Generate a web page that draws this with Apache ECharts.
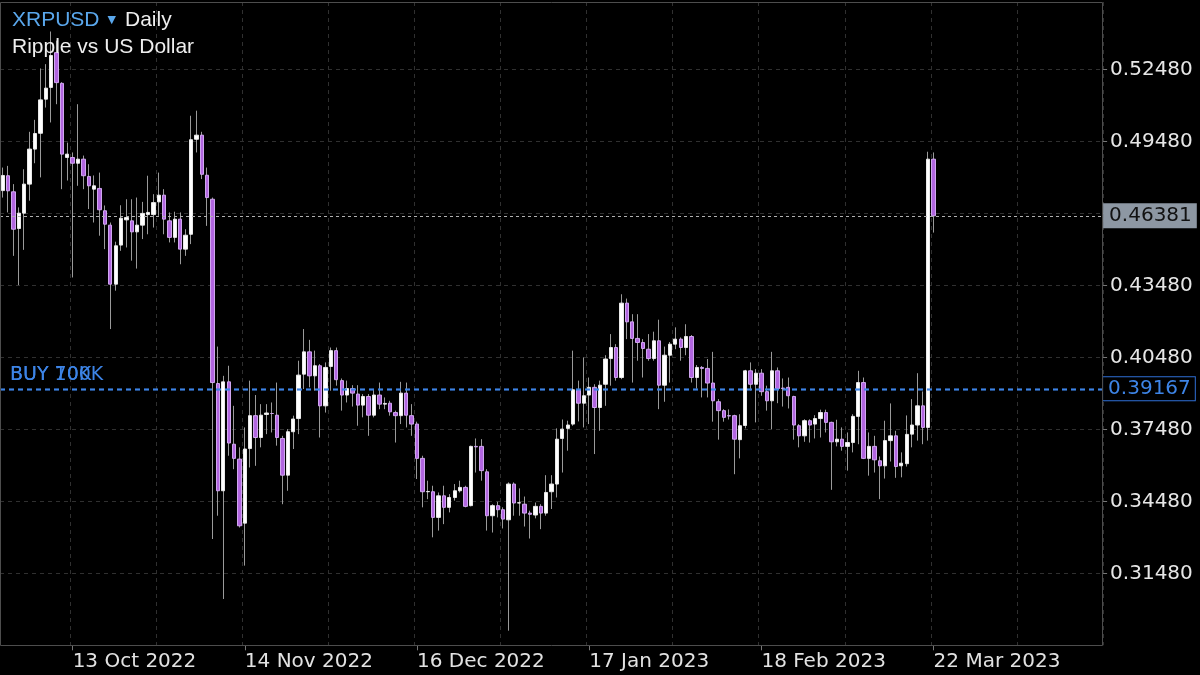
<!DOCTYPE html>
<html>
<head>
<meta charset="utf-8">
<script src="https://cdn.jsdelivr.net/npm/echarts@6/dist/echarts.min.js"></script>
<style>
html,body{margin:0;padding:0;background:#000;}
#chart{width:1200px;height:675px;}
</style>
</head>
<body>
<div id="chart"></div>
<script>
// ---- data ----
const firstDay = [2022, 8, 30];          // 30 Sep 2022 (UTC y, m0, d)
const totalDays = 205;                    // category slots incl. empty space on the right
const openP = [
0.4743,0.4805,0.4738,0.4585,0.4649,0.4770,0.4916,0.4982,0.5124,0.5173,
0.5318,0.5190,0.4881,0.4881,0.4857,0.4874,0.4802,0.4749,0.4752,0.4659,
0.4599,0.4353,0.4516,0.4621,0.4617,0.4571,0.4599,0.4643,0.4643,0.4696,
0.4724,0.4617,0.4548,0.4624,0.4499,0.4561,0.4957,0.4974,0.4807,0.4707,
0.3939,0.3492,0.3946,0.3686,0.3624,0.3357,0.3668,0.3805,0.3714,0.3810,
0.3814,0.3807,0.3710,0.3557,0.3738,0.3793,0.3978,0.4071,0.3971,0.4013,
0.3846,0.4010,0.4076,0.3951,0.3891,0.3918,0.3895,0.3849,0.3885,0.3807,
0.3891,0.3853,0.3857,0.3818,0.3805,0.3899,0.3805,0.3770,0.3627,0.3488,
0.3488,0.3381,0.3471,0.3423,0.3464,0.3492,0.3506,0.3430,0.3677,0.3677,
0.3571,0.3388,0.3430,0.3413,0.3371,0.3520,0.3441,0.3436,0.3399,0.3391,
0.3427,0.3399,0.3488,0.3520,0.3710,0.3752,0.3770,0.3913,0.3857,0.3891,
0.3923,0.3839,0.3936,0.4043,0.4089,0.3964,0.4274,0.4196,0.4127,0.4110,
0.4082,0.4043,0.4117,0.3932,0.4057,0.4103,0.4124,0.4089,0.4135,0.3964,
0.4006,0.4002,0.3941,0.3863,0.3826,0.3805,0.3805,0.3705,0.3764,0.3992,
0.3936,0.3982,0.3905,0.3867,0.3992,0.3920,0.3923,0.3885,0.3763,0.3721,
0.3784,0.3770,0.3793,0.3818,0.3777,0.3696,0.3707,0.3677,0.3693,0.3802,
0.3943,0.3627,0.3677,0.3617,0.3596,0.3701,0.3721,0.3596,0.3605,0.3728,
0.3766,0.3846,0.3756,0.4874
];
const closeP = [
0.4806,0.4742,0.4582,0.4649,0.4770,0.4916,0.4981,0.5121,0.5170,0.5306,
0.5193,0.4895,0.4895,0.4857,0.4874,0.4805,0.4763,0.4763,0.4663,0.4603,
0.4353,0.4513,0.4628,0.4631,0.4571,0.4599,0.4648,0.4652,0.4693,0.4724,
0.4624,0.4548,0.4624,0.4499,0.4557,0.4955,0.4974,0.4811,0.4714,0.3943,
0.3492,0.3946,0.3691,0.3627,0.3346,0.3666,0.3805,0.3714,0.3807,0.3816,
0.3814,0.3714,0.3557,0.3738,0.3791,0.3974,0.4071,0.3971,0.4013,0.3846,
0.4006,0.4076,0.3955,0.3891,0.3918,0.3899,0.3849,0.3885,0.3807,0.3891,
0.3853,0.3856,0.3821,0.3805,0.3899,0.3807,0.3770,0.3627,0.3488,0.3489,
0.3381,0.3471,0.3423,0.3464,0.3492,0.3506,0.3427,0.3677,0.3675,0.3576,
0.3388,0.3430,0.3413,0.3374,0.3520,0.3441,0.3442,0.3399,0.3394,0.3427,
0.3399,0.3485,0.3520,0.3707,0.3749,0.3766,0.3913,0.3857,0.3888,0.3923,
0.3839,0.3932,0.4041,0.4089,0.3964,0.4274,0.4196,0.4127,0.4110,0.4085,
0.4043,0.4117,0.3932,0.4057,0.4103,0.4124,0.4089,0.4135,0.3964,0.4006,
0.4002,0.3941,0.3867,0.3826,0.3798,0.3804,0.3707,0.3763,0.3992,0.3936,
0.3982,0.3905,0.3867,0.3992,0.3918,0.3918,0.3888,0.3766,0.3721,0.3784,
0.3766,0.3793,0.3818,0.3777,0.3696,0.3707,0.3677,0.3693,0.3802,0.3943,
0.3627,0.3677,0.3621,0.3596,0.3701,0.3721,0.3593,0.3607,0.3727,0.3766,
0.3846,0.3756,0.4874,0.46381
];
const lowP = [
0.4714,0.4652,0.4471,0.4349,0.4496,0.4701,0.4857,0.4798,0.5089,0.5027,
0.5103,0.4749,0.4785,0.4381,0.4763,0.4749,0.4666,0.4610,0.4555,0.4499,
0.4166,0.4326,0.4492,0.4506,0.4451,0.4418,0.4541,0.4561,0.4589,0.4638,
0.4561,0.4527,0.4527,0.4436,0.4471,0.4520,0.4902,0.4791,0.4596,0.3291,
0.3388,0.3041,0.3638,0.3582,0.3339,0.3180,0.3589,0.3596,0.3673,0.3728,
0.3735,0.3680,0.3436,0.3492,0.3666,0.3728,0.3916,0.3923,0.3909,0.3714,
0.3818,0.3909,0.3930,0.3826,0.3860,0.3843,0.3763,0.3798,0.3721,0.3798,
0.3832,0.3832,0.3805,0.3693,0.3770,0.3756,0.3721,0.3541,0.3423,0.3457,
0.3298,0.3326,0.3353,0.3402,0.3451,0.3485,0.3423,0.3427,0.3568,0.3534,
0.3326,0.3318,0.3381,0.3335,0.2909,0.3388,0.3388,0.3343,0.3293,0.3377,
0.3332,0.3388,0.3416,0.3464,0.3568,0.3659,0.3763,0.3781,0.3756,0.3770,
0.3645,0.3742,0.3846,0.3930,0.3951,0.3957,0.4124,0.3943,0.4034,0.3964,
0.4034,0.4034,0.3832,0.3863,0.3943,0.4082,0.4034,0.4057,0.3943,0.3918,
0.3881,0.3881,0.3780,0.3705,0.3780,0.3789,0.3561,0.3627,0.3752,0.3910,
0.3777,0.3888,0.3826,0.3749,0.3857,0.3843,0.3835,0.3705,0.3673,0.3696,
0.3693,0.3710,0.3714,0.3735,0.3496,0.3677,0.3659,0.3576,0.3652,0.3686,
0.3624,0.3555,0.3568,0.3457,0.3543,0.3614,0.3546,0.3548,0.3593,0.3673,
0.3701,0.3686,0.3701,0.4568
];
const highP = [
0.4839,0.4846,0.4770,0.4673,0.4832,0.4988,0.5038,0.5252,0.5270,0.5406,
0.5368,0.5195,0.4943,0.4902,0.5103,0.4889,0.4853,0.4806,0.4818,0.4681,
0.4610,0.4530,0.4682,0.4707,0.4707,0.4714,0.4696,0.4805,0.4728,0.4818,
0.4749,0.4652,0.4655,0.4652,0.4582,0.5055,0.5076,0.4988,0.4839,0.4714,
0.4093,0.3971,0.4013,0.3846,0.3673,0.3756,0.3951,0.3891,0.3853,0.3853,
0.3860,0.3943,0.3721,0.3749,0.3805,0.4034,0.4166,0.4121,0.4076,0.4020,
0.4027,0.4089,0.4089,0.3960,0.3951,0.3932,0.3932,0.3895,0.3895,0.3916,
0.3943,0.3881,0.3867,0.3826,0.3946,0.3943,0.3853,0.3780,0.3638,0.3534,
0.3513,0.3485,0.3513,0.3478,0.3520,0.3534,0.3513,0.3680,0.3710,0.3707,
0.3582,0.3436,0.3446,0.3423,0.3527,0.3527,0.3502,0.3468,0.3409,0.3443,
0.3436,0.3557,0.3557,0.3752,0.3789,0.3784,0.4076,0.3951,0.4048,0.3964,
0.3936,0.3951,0.4057,0.4145,0.4103,0.4311,0.4293,0.4228,0.4228,0.4124,
0.4145,0.4155,0.4205,0.4093,0.4112,0.4173,0.4131,0.4186,0.4141,0.4016,
0.4012,0.4041,0.4071,0.3874,0.3832,0.3831,0.3809,0.3811,0.3996,0.4027,
0.3999,0.3999,0.3930,0.4071,0.4006,0.3960,0.3964,0.3888,0.3770,0.3790,
0.3790,0.3807,0.3830,0.3830,0.3780,0.3788,0.3756,0.3735,0.3811,0.3992,
0.3964,0.3735,0.3721,0.3635,0.3784,0.3856,0.3742,0.3652,0.3806,0.3874,
0.3982,0.3906,0.4905,0.4902
];
const xTickLabels = ['13 Oct 2022','14 Nov 2022','16 Dec 2022','17 Jan 2023','18 Feb 2023','22 Mar 2023'];
const yTickValues = [0.3148,0.3448,0.3748,0.4048,0.4348,0.4648,0.4948,0.5248];
const yLabelValues = [0.3148,0.3448,0.3748,0.4048,0.4348,0.4948,0.5248];
const currentPrice = 0.46381;
const buyLevel = 0.39167;
const buyLabels = ['BUY 10K','BUY 700K'];
const symbolName = 'XRPUSD';
const periodName = 'Daily';
const description = 'Ripple vs US Dollar';

// ---- build ----
const MONTHS = ['Jan','Feb','Mar','Apr','May','Jun','Jul','Aug','Sep','Oct','Nov','Dec'];
const categories = [];
const t0 = Date.UTC(firstDay[0], firstDay[1], firstDay[2]);
for (let i = 0; i < totalDays; i++) {
  const d = new Date(t0 + i * 86400000);
  categories.push(d.getUTCDate() + ' ' + MONTHS[d.getUTCMonth()] + ' ' + d.getUTCFullYear());
}
const firstLabelIdx = categories.indexOf(xTickLabels[0]);
const labelStep = categories.indexOf(xTickLabels[1]) - firstLabelIdx;
const gridStep = labelStep / 2;

const wickData = openP.map((o, i) => [o, closeP[i], lowP[i], highP[i]]);
const bodyData = openP.map((o, i) => [o, closeP[i], Math.min(o, closeP[i]), Math.max(o, closeP[i])]);

const AXIS_FONT = 'DejaVu Sans';
const BLUE = '#3d84e6';

const chart = echarts.init(document.getElementById('chart'), null, {renderer: 'canvas'});
chart.setOption({
  backgroundColor: '#000000',
  animation: false,
  title: {
    left: 7, top: 5,
    text: '{s|' + symbolName + '} {t|▼} {d|' + periodName + '}',
    subtext: description,
    itemGap: 6,
    textStyle: {
      fontWeight: 'normal',
      rich: {
        s: {color: '#5aa7ec', fontSize: 21, fontWeight: 'normal', fontFamily: 'Liberation Sans'},
        t: {color: '#5aa7ec', fontSize: 11, fontWeight: 'normal', fontFamily: 'DejaVu Sans', padding: [0, 4, 0, 3]},
        d: {color: '#eeeeee', fontSize: 21, fontWeight: 'normal', fontFamily: 'Liberation Sans'}
      }
    },
    subtextStyle: {color: '#eeeeee', fontSize: 21, fontWeight: 'normal', fontFamily: 'Liberation Sans'}
  },
  grid: {left: -1.39, right: 96.9, top: 2, bottom: 29.7, show: false},
  xAxis: {
    type: 'category',
    data: categories,
    boundaryGap: true,
    axisLine: {show: false},
    axisTick: {
      show: true, length: 5, alignWithLabel: true,
      interval: (i, v) => xTickLabels.indexOf(v) >= 0,
      lineStyle: {color: '#777777'}
    },
    axisLabel: {
      interval: (i, v) => xTickLabels.indexOf(v) >= 0,
      align: 'left', margin: 6, padding: [0, 0, 0, 0],
      color: '#e2e2e2', fontSize: 20, fontFamily: AXIS_FONT,
      hideOverlap: false
    },
    splitLine: {
      show: true,
      interval: (i) => i >= firstLabelIdx - gridStep && (i - firstLabelIdx) % gridStep === 0,
      lineStyle: {color: '#303030', type: [4, 4], width: 1}
    }
  },
  yAxis: {
    type: 'value',
    position: 'right',
    min: 0.2848, max: 0.5529,
    axisLine: {show: false},
    axisTick: {show: true, customValues: yTickValues, length: 4, lineStyle: {color: '#777777'}},
    axisLabel: {
      customValues: yLabelValues,
      formatter: v => v.toFixed(5),
      color: '#e6e6e6', fontSize: 20, fontFamily: AXIS_FONT, margin: 7
    },
    splitLine: {show: true, lineStyle: {color: '#303030', type: [4, 4], width: 1}}
  },
  series: [
    {
      type: 'candlestick',
      name: 'wicks',
      data: wickData,
      barWidth: 1,
      silent: true,
      z: 2,
      itemStyle: {color: '#9a9a9a', color0: '#9a9a9a', borderColor: '#9a9a9a', borderColor0: '#9a9a9a', borderWidth: 1}
    },
    {
      type: 'candlestick',
      name: 'bodies',
      data: bodyData,
      barWidth: 3.8,
      silent: true,
      z: 3,
      itemStyle: {color: '#ffffff', color0: '#b266e0', borderColor: '#e8e8e8', borderColor0: '#cfa6ef', borderWidth: 1},
      markLine: {
        symbol: ['none', 'none'],
        silent: true,
        animation: false,
        precision: 5,
        data: [
          {
            yAxis: currentPrice,
            lineStyle: {color: '#b0b0b0', type: [3, 3], width: 1},
            label: {
              show: true, position: 'end', distance: 0,
              formatter: currentPrice.toFixed(5),
              color: '#121212', backgroundColor: '#8d97a3',
              padding: [3, 5, 2, 6], fontSize: 20, fontFamily: AXIS_FONT
            }
          },
          {
            yAxis: buyLevel,
            lineStyle: {color: BLUE, type: [5, 4], width: 1.3},
            label: {
              show: true, position: 'end', distance: 0,
              formatter: buyLevel.toFixed(5),
              color: BLUE, backgroundColor: '#000000', borderColor: '#2f6fd6', borderWidth: 1,
              padding: [2, 4, 1, 5], fontSize: 20, fontFamily: AXIS_FONT
            }
          },
          {
            yAxis: buyLevel,
            lineStyle: {color: BLUE, type: [5, 4], width: 1.3},
            label: {
              show: true, position: 'insideStartTop', distance: [10, 4],
              formatter: buyLabels[0],
              color: BLUE, fontSize: 19, fontFamily: AXIS_FONT
            }
          },
          {
            yAxis: buyLevel,
            lineStyle: {color: BLUE, type: [5, 4], width: 1.3},
            label: {
              show: true, position: 'insideStartTop', distance: [10, 4],
              formatter: buyLabels[1],
              color: BLUE, fontSize: 19, fontFamily: AXIS_FONT
            }
          }
        ]
      }
    }
  ],
  graphic: [
    {
      type: 'rect', silent: true, z: 100,
      shape: {x: 0.5, y: 2.5, width: 1102, height: 643},
      style: {fill: null, stroke: '#4d4d4d', lineWidth: 1}
    }
  ]
});
</script>
</body>
</html>
